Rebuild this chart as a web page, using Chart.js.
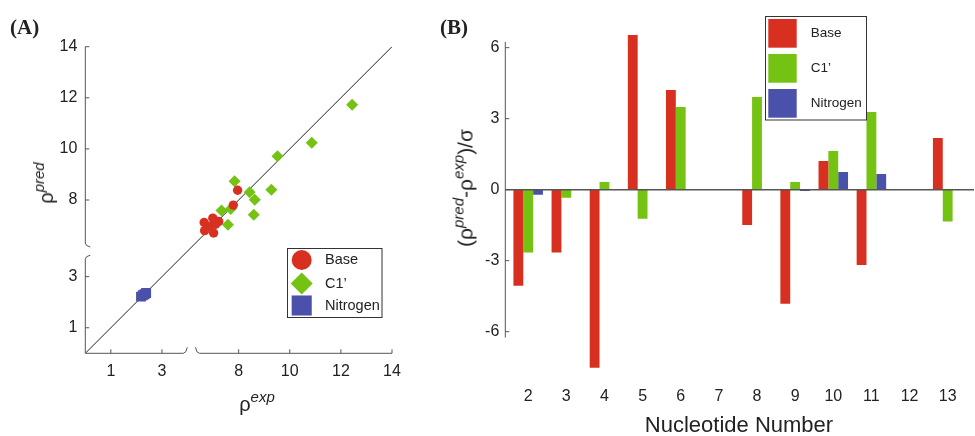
<!DOCTYPE html>
<html>
<head>
<meta charset="utf-8">
<script src="https://cdn.jsdelivr.net/npm/chart.js@4.4.1/dist/chart.umd.min.js"></script>
<style>
  body { margin: 0; background: #fff; }
  #wrap { position: relative; width: 975px; height: 436px; overflow: hidden;
          font-family: 'Liberation Sans', Arial, sans-serif; color: #222; }
  canvas { position: absolute; top: 0; }
  #chartA { left: 0; }
  #chartB { left: 440px; }
  .lbl { position: absolute; white-space: nowrap; line-height: 1; }
  .panel { font-family: 'Liberation Serif', 'Times New Roman', serif; font-weight: bold; font-size: 21px; top: 17px; }
  .rot { transform: translate(-50%, -50%) rotate(-90deg); }
  .ctr { transform: translate(-50%, -50%); }
  .sup { font-size: 15px; font-style: italic; position: relative; top: -9px; }
</style>
</head>
<body>
<div id="wrap">
  <canvas id="chartA" width="430" height="436"></canvas>
  <canvas id="chartB" width="535" height="436"></canvas>
  <div class="lbl panel" style="left:10px">(A)</div>
  <div class="lbl panel" style="left:440px">(B)</div>
  <div class="lbl ctr" style="left:257px; top:404px; font-size:20px">ρ<span class="sup">exp</span></div>
  <div class="lbl rot" style="left:46px; top:183px; font-size:20px">ρ<span class="sup">pred</span></div>
  <div class="lbl rot" style="left:465px; top:188px; font-size:21px">(ρ<span class="sup">pred</span>-ρ<span class="sup">exp</span>)/σ</div>
  <div class="lbl ctr" style="left:739px; top:425px; font-size:22px">Nucleotide Number</div>
</div>
<script>
// ---- panel A: predicted vs experimental ----
const baseExp = [7.96, 7.79, 6.65, 6.99, 7.22, 6.67, 7.02, 6.86, 7.1];
const basePred = [8.38, 7.80, 7.12, 7.29, 7.16, 6.80, 6.71, 6.96, 7.05];
const c1Exp = [12.44, 10.86, 9.52, 7.84, 8.43, 9.28, 8.63, 7.33, 7.69, 8.59, 7.58];
const c1Pred = [11.73, 10.24, 9.71, 8.73, 8.30, 8.40, 8.01, 7.59, 7.65, 7.42, 7.03];
const nitroExp = [2.18, 2.25, 2.32, 2.38];
const nitroPred = [2.22, 2.27, 2.31, 2.36];
const diagonalEnds = [0, 14];
const expTicks = [1, 3, 8, 10, 12, 14];
const predTicks = [1, 3, 8, 10, 12, 14];

// ---- panel B: deviations per nucleotide ----
const nucleotides = [2, 3, 4, 5, 6, 7, 8, 9, 10, 11, 12, 13];
const baseDev = [-4.06, -2.66, -7.52, 6.54, 4.21, null, -1.49, -4.82, 1.21, -3.18, null, 2.18];
const c1Dev = [-2.66, -0.34, 0.32, -1.23, 3.49, null, 3.92, 0.32, 1.63, 3.28, null, -1.35];
const nitroDev = [-0.21, null, null, null, null, null, null, -0.06, 0.75, 0.66, null, null];
const devTicks = [-6, -3, 0, 3, 6];

const RED = '#d83020', GREEN = '#74c212', BLUE = '#4a51ab';
const FONT = "'Liberation Sans', Arial, sans-serif";

// axis break: values above it are drawn 2 units lower
const breakShift = 2;
function squeeze(v) { return v > 5 ? v - breakShift : v; }
function pts(xs, ys) { return xs.map((x, i) => ({ x: squeeze(x), y: squeeze(ys[i]) })); }

const axesA = {
    id: 'axesA',
    afterDraw(chart) {
        const ctx = chart.ctx;
        const x = chart.scales.x, y = chart.scales.y;
        const x0 = x.getPixelForValue(0), y0 = y.getPixelForValue(0);
        const xEnd = x.getPixelForValue(12), yTop = y.getPixelForValue(12);
        const xb1 = x.getPixelForValue(3.95), xb2 = x.getPixelForValue(4.35);
        const yb1 = y.getPixelForValue(3.8), yb2 = y.getPixelForValue(4.2);
        ctx.save();
        ctx.strokeStyle = '#555';
        ctx.lineWidth = 1;
        ctx.beginPath();
        ctx.moveTo(x0, y0); ctx.lineTo(x0, yb1 + 3);
        ctx.quadraticCurveTo(x0, yb1, x0 + 5, yb1 - 1);
        ctx.moveTo(x0 + 5, yb2 + 1); ctx.quadraticCurveTo(x0, yb2, x0, yb2 - 3);
        ctx.lineTo(x0, yTop);
        ctx.moveTo(x0, y0); ctx.lineTo(xb1 - 3, y0);
        ctx.quadraticCurveTo(xb1, y0, xb1 + 1, y0 - 6);
        ctx.moveTo(xb2 - 1, y0 - 6); ctx.quadraticCurveTo(xb2, y0, xb2 + 3, y0);
        ctx.lineTo(xEnd, y0);
        expTicks.forEach(v => {
            const px = x.getPixelForValue(squeeze(v));
            ctx.moveTo(px, y0); ctx.lineTo(px, y0 - 4);
        });
        predTicks.forEach(v => {
            const py = y.getPixelForValue(squeeze(v));
            ctx.moveTo(x0, py); ctx.lineTo(x0 + 4, py);
        });
        ctx.stroke();

        // legend
        ctx.fillStyle = '#fff';
        ctx.fillRect(287.5, 248.5, 94.5, 69);
        ctx.strokeStyle = '#333';
        ctx.strokeRect(287.5, 248.5, 94.5, 69);
        const rows = [260, 283.5, 305.5];
        const radii = [10, 11, 14.2];
        chart.data.datasets.slice(0, 3).forEach((ds, i) => {
            ctx.fillStyle = ds.backgroundColor;
            Chart.helpers.drawPoint(ctx, { pointStyle: ds.pointStyle, radius: radii[i], rotation: 0, borderWidth: 0 }, 301.7, rows[i]);
            ctx.fillStyle = '#222';
            ctx.font = '14.5px ' + FONT;
            ctx.textBaseline = 'middle';
            ctx.fillText(ds.label, 325, rows[i]);
        });
        ctx.restore();
    }
};

new Chart(document.getElementById('chartA'), {
    type: 'scatter',
    data: {
        datasets: [
            { label: 'Base', data: pts(baseExp, basePred), pointStyle: 'circle', pointRadius: 4.7,
              backgroundColor: RED, borderWidth: 0, order: 1 },
            { label: 'C1\u2019', data: pts(c1Exp, c1Pred), pointStyle: 'rectRot', pointRadius: 6,
              backgroundColor: GREEN, borderWidth: 0, order: 2 },
            { label: 'Nitrogen', data: pts(nitroExp, nitroPred), pointStyle: 'rect', pointRadius: 7,
              backgroundColor: BLUE, borderWidth: 0, order: 1 },
            { type: 'line', label: 'y = x', data: pts(diagonalEnds, diagonalEnds), borderColor: '#222',
              borderWidth: 1, pointRadius: 0, order: 10 }
        ]
    },
    options: {
        responsive: false,
        animation: false,
        layout: { padding: { left: 25.3, right: 38, top: 46.7, bottom: 42.7 } },
        plugins: { legend: { display: false }, tooltip: { enabled: false } },
        scales: {
            x: {
                type: 'linear', min: 0, max: 12,
                grid: { display: false, drawTicks: false }, border: { display: false },
                afterBuildTicks: s => { s.ticks = expTicks.map(v => ({ value: squeeze(v) })); },
                afterFit: s => { s.height = 40; },
                ticks: { autoSkip: false, maxRotation: 0, padding: 9, color: '#222',
                         font: { size: 16, family: FONT }, callback: (v, i) => expTicks[i] }
            },
            y: {
                type: 'linear', min: 0, max: 12,
                grid: { display: false, drawTicks: false }, border: { display: false },
                afterBuildTicks: s => { s.ticks = predTicks.map(v => ({ value: squeeze(v) })); },
                afterFit: s => { s.width = 60; },
                ticks: { autoSkip: false, padding: 8, color: '#222',
                         font: { size: 16, family: FONT }, callback: (v, i) => predTicks[i] }
            }
        }
    },
    plugins: [axesA]
});

const axesB = {
    id: 'axesB',
    afterDatasetsDraw(chart) {
        const ctx = chart.ctx;
        const area = chart.chartArea;
        const y = chart.scales.y;
        const zero = y.getPixelForValue(0);
        ctx.save();
        ctx.strokeStyle = '#555';
        ctx.lineWidth = 1.5;
        ctx.beginPath();
        ctx.moveTo(area.left, zero); ctx.lineTo(area.right, zero);
        ctx.stroke();
        ctx.lineWidth = 1;
        ctx.beginPath();
        ctx.moveTo(area.left, y.getPixelForValue(6.25));
        ctx.lineTo(area.left, y.getPixelForValue(-6.25));
        devTicks.forEach(v => {
            const py = y.getPixelForValue(v);
            ctx.moveTo(area.left, py); ctx.lineTo(area.left + 4, py);
        });
        ctx.stroke();

        // legend
        ctx.fillStyle = '#fff';
        ctx.fillRect(325.5, 16.5, 101, 103.5);
        ctx.strokeStyle = '#333';
        ctx.strokeRect(325.5, 16.5, 101, 103.5);
        const rows = [19, 54, 89];
        chart.data.datasets.forEach((ds, i) => {
            ctx.fillStyle = ds.backgroundColor;
            ctx.fillRect(328.3, rows[i], 28.4, 28.7);
            ctx.fillStyle = '#222';
            ctx.font = '13.5px ' + FONT;
            ctx.textBaseline = 'middle';
            ctx.fillText(ds.label, 370.7, rows[i] + 14.3);
        });
        ctx.restore();
    }
};

function bars(values) { return nucleotides.map((n, i) => ({ x: n, y: values[i] })); }

new Chart(document.getElementById('chartB'), {
    type: 'bar',
    data: {
        datasets: [
            { label: 'Base', data: bars(baseDev), backgroundColor: RED },
            { label: 'C1\u2019', data: bars(c1Dev), backgroundColor: GREEN },
            { label: 'Nitrogen', data: bars(nitroDev), backgroundColor: BLUE }
        ]
    },
    options: {
        responsive: false,
        animation: false,
        datasets: { bar: { barPercentage: 1, categoryPercentage: 0.774, borderWidth: 0 } },
        layout: { padding: { left: 10.3, right: 1, top: 24, bottom: 17 } },
        plugins: { legend: { display: false }, tooltip: { enabled: false } },
        scales: {
            x: {
                type: 'linear', min: 1.4, max: 13.69, offset: false,
                grid: { display: false, drawTicks: false }, border: { display: false },
                afterBuildTicks: s => { s.ticks = nucleotides.map(v => ({ value: v })); },
                afterFit: s => { s.height = 40; },
                ticks: { autoSkip: false, maxRotation: 0, padding: 8, color: '#222',
                         font: { size: 16, family: FONT }, callback: (v, i) => nucleotides[i] }
            },
            y: {
                type: 'linear', min: -8, max: 7,
                grid: { display: false, drawTicks: false }, border: { display: false },
                afterBuildTicks: s => { s.ticks = devTicks.map(v => ({ value: v })); },
                afterFit: s => { s.width = 55; },
                ticks: { autoSkip: false, padding: 6, color: '#222',
                         font: { size: 16, family: FONT }, callback: (v, i) => devTicks[i] }
            }
        }
    },
    plugins: [axesB]
});
</script>
</body>
</html>
